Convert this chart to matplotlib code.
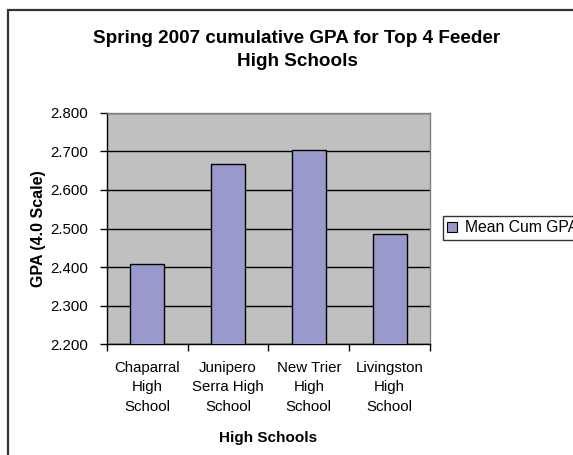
import matplotlib
matplotlib.use("Agg")
import matplotlib.pyplot as plt
from matplotlib.patches import Rectangle, Patch
import numpy as np

plt.rcParams['font.family'] = ['Liberation Sans', 'DejaVu Sans']

categories = ["Chaparral\nHigh\nSchool", "Junipero\nSerra High\nSchool", "New Trier\nHigh\nSchool", "Livingston\nHigh\nSchool"]
values = [2.409, 2.667, 2.704, 2.487]
series_name = "Mean Cum GPA"
yticks = [2.2, 2.3, 2.4, 2.5, 2.6, 2.7, 2.8]

W, H = 573, 455
fig = plt.figure(figsize=(W/100, H/100), dpi=100)
fig.patch.set_facecolor('white')

# chart area border
fig.patches.append(Rectangle((8/W, -0.1), 2, 1 - 9.5/H + 0.1, transform=fig.transFigure,
                             fill=False, edgecolor='#333333', lw=1.6, zorder=0))

ax = fig.add_axes([106.7/W, 1-344.3/H, (430-106.7)/W, (344.3-112.7)/H])
ax.set_facecolor('#C0C0C0')
x = np.arange(len(categories))
ax.bar(x, values, width=0.42, bottom=0, color='#9999CC', edgecolor='black', linewidth=1.0, zorder=3)
ax.set_xlim(-0.5, len(categories)-0.5)
ax.set_ylim(2.2, 2.8)
ax.set_yticks(yticks)
ax.set_yticklabels([f"{v:.3f}" for v in yticks], fontsize=10.8)
ax.yaxis.grid(True, color='black', lw=1.0, zorder=1)
ax.set_axisbelow(True)
# category ticks between categories
ax.set_xticks(np.arange(len(categories)+1) - 0.5)
ax.set_xticklabels([])
ax.set_xticks(x, minor=True)
ax.set_xticklabels(categories, minor=True, fontsize=10.8, linespacing=1.5)
ax.tick_params(axis='x', which='minor', length=0, pad=12)
ax.tick_params(axis='x', which='major', direction='out', length=5, width=1, color='black')
ax.tick_params(axis='y', direction='out', length=5, width=1, color='black', pad=8.5)
for s in ['top', 'right']:
    ax.spines[s].set_color('#808080')
    ax.spines[s].set_linewidth(1.0)
for s in ['left', 'bottom']:
    ax.spines[s].set_color('black')
    ax.spines[s].set_linewidth(1.0)

ax.set_xlabel("High Schools", fontsize=11, fontweight='bold', labelpad=12)
ax.set_ylabel("GPA (4.0 Scale)", fontsize=11.5, fontweight='bold', labelpad=3)

fig.text(297/W, 1-50/H, "Spring 2007 cumulative GPA for Top 4 Feeder\nHigh Schools",
         ha='center', va='center', fontsize=13.6, fontweight='bold', linespacing=1.45)

leg = fig.legend(handles=[Patch(facecolor='#9999CC', edgecolor='black', linewidth=0.8, label=series_name)],
                 loc='center left', bbox_to_anchor=(442.7/W, 1-227.8/H), fontsize=11.3,
                 frameon=True, fancybox=False, edgecolor='black', handlelength=0.6, handleheight=0.6,
                 handletextpad=0.5, borderpad=0.3, borderaxespad=0)
leg.get_frame().set_linewidth(1.0)

fig.savefig("out.png", dpi=100)
